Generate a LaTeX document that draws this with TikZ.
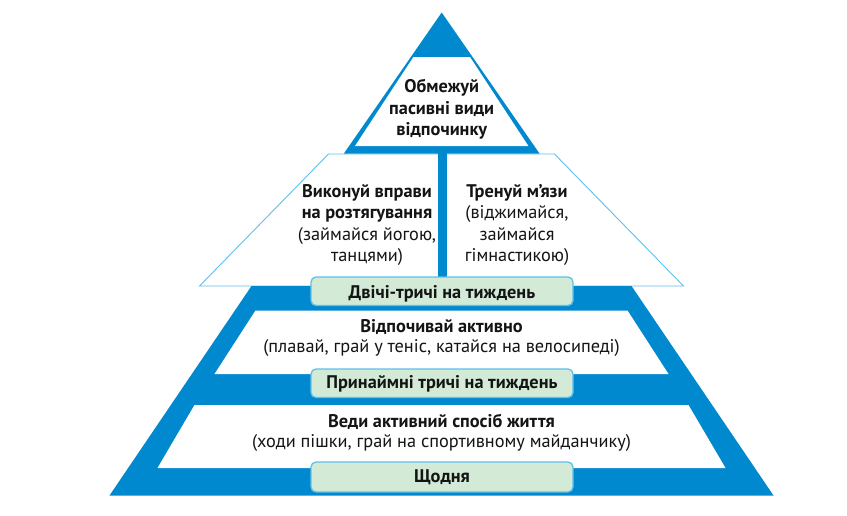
\documentclass[tikz,border=0pt]{standalone}
\usepackage{fontspec}
\setmainfont{PT Sans}
\definecolor{pblue}{RGB}{0,137,207}
\definecolor{lblue}{RGB}{95,192,236}
\definecolor{lgreen}{RGB}{210,234,214}
\definecolor{txt}{RGB}{20,20,20}
\newcommand\fsz{\fontsize{18.3}{22}\selectfont}
\tikzset{
  bl/.style={font=\fsz\bfseries, text=txt, inner sep=0pt, anchor=base},
  rg/.style={font=\fsz, text=txt, inner sep=0pt, anchor=base},
  freqbox/.style={draw=lblue, line width=1.3pt, fill=lgreen, rounded corners=5pt},
}
\begin{document}
\begin{tikzpicture}[x=1pt,y=-1pt]
\useasboundingbox (0,0) rectangle (847,515);
% middle trapezoid (light outline)
\draw[lblue, line width=0.9pt, fill=white] (328.5,154) -- (554.5,154) -- (683.5,286) -- (199.5,286) -- cycle;
% big blue trapezoid
\fill[pblue] (251.5,286) -- (631.5,286) -- (773.5,495.5) -- (109.5,495.5) -- cycle;
\fill[white] (255.5,310.5) -- (627.5,310.5) -- (668.5,374) -- (214.5,374) -- cycle;
\fill[white] (194.5,405) -- (688.5,405) -- (725.5,468) -- (157.5,468) -- cycle;
% top triangle
\fill[pblue] (441.7,12.5) -- (539.5,153.5) -- (343.9,153.5) -- cycle;
\fill[white] (413.4,57) -- (470,57) -- (528.4,146) -- (355,146) -- cycle;
% vertical bar
\fill[pblue] (437.5,153) rectangle (446.5,286);
% frequency boxes
\draw[freqbox] (311,277) rectangle (573,305.5);
\draw[freqbox] (311,369) rectangle (573,397.5);
\draw[freqbox] (311,462) rectangle (573,492);
% texts
\node[bl] (t1) at (441.7,92.7) {Обмежуй};
\node[bl] (t2) at (441.7,114.3) {пасивні види};
\node[bl] (t3) at (441.7,135.5) {відпочинку};
\node[bl] (l1) at (367,197) {Виконуй вправи};
\node[bl] (l2) at (367,218.5) {на розтягування};
\node[rg] (l3) at (367,240) {(займайся йогою,};
\node[rg] (l4) at (367,261.5) {танцями)};
\node[bl] (r1) at (517,197) {Тренуй м’язи};
\node[rg] (r2) at (517,218.5) {(віджимайся,};
\node[rg] (r3) at (517,240) {займайся};
\node[rg] (r4) at (517,261.5) {гімнастикою)};
\node[bl] (f1) at (442,298.5) {Двічі-тричі на тиждень};
\node[bl] (m1) at (441.5,332) {Відпочивай активно};
\node[rg] (m2) at (441.5,352.5) {(плавай, грай у теніс, катайся на велосипеді)};
\node[bl] (f2) at (442,388) {Принаймні тричі на тиждень};
\node[bl] (b1) at (441.5,427) {Веди активний спосіб життя};
\node[rg] (b2) at (441.5,447) {(ходи пішки, грай на спортивному майданчику)};
\node[bl] (f3) at (442,482.5) {Щодня};
\end{tikzpicture}
\end{document}
